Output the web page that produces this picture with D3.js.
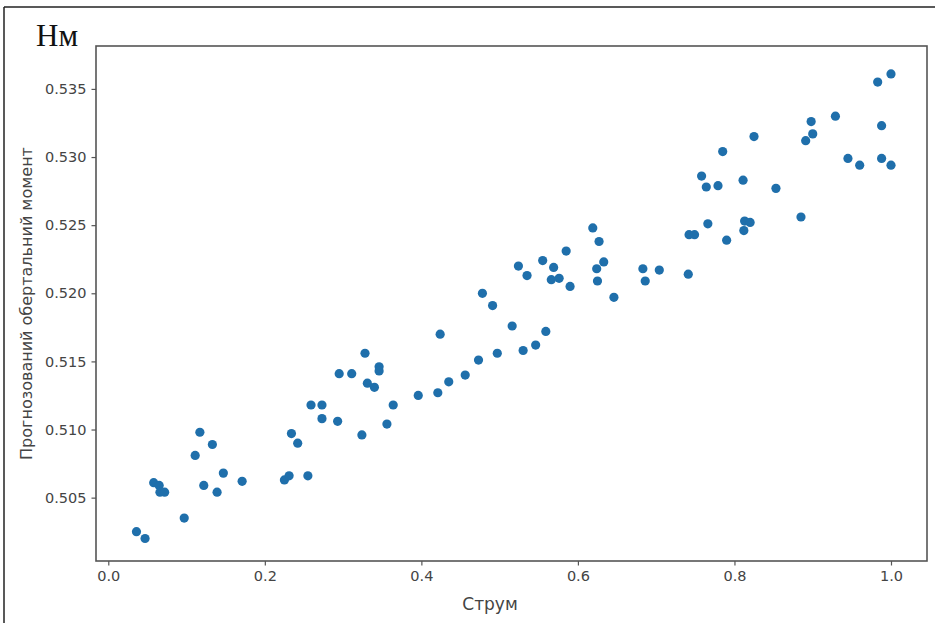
<!DOCTYPE html>
<html>
<head>
<meta charset="utf-8">
<script src="https://cdn.jsdelivr.net/npm/d3@7"></script>
<style>
    body { margin:0; background:#fff; }
    text { font-family: "DejaVu Sans", sans-serif; }
</style>
</head>
<body>
<div id="chart-area"></div>
<script>
// Струм vs прогнозований обертальний момент
var current = [0.036, 0.047, 0.058, 0.065, 0.066, 0.072, 0.097, 0.111, 0.117, 0.133,
    0.122, 0.139, 0.147, 0.171, 0.225, 0.231, 0.255, 0.234, 0.242, 0.259,
    0.273, 0.273, 0.293, 0.295, 0.311, 0.328, 0.331, 0.340, 0.346, 0.346,
    0.324, 0.356, 0.364, 0.396, 0.421, 0.424, 0.435, 0.456, 0.473, 0.478,
    0.491, 0.497, 0.516, 0.530, 0.546, 0.559, 0.524, 0.535, 0.555, 0.569,
    0.566, 0.576, 0.585, 0.590, 0.619, 0.627, 0.633, 0.624, 0.625, 0.646,
    0.683, 0.686, 0.704, 0.741, 0.742, 0.749, 0.758, 0.764, 0.779, 0.766,
    0.790, 0.811, 0.813, 0.820, 0.812, 0.825, 0.785, 0.853, 0.885, 0.891,
    0.900, 0.898, 0.929, 0.945, 0.960, 0.988, 0.988, 1.000, 0.983, 1.000];

var torque = [0.5025, 0.5020, 0.5061, 0.5059, 0.5054, 0.5054, 0.5035, 0.5081, 0.5098, 0.5089,
    0.5059, 0.5054, 0.5068, 0.5062, 0.5063, 0.5066, 0.5066, 0.5097, 0.5090, 0.5118,
    0.5118, 0.5108, 0.5106, 0.5141, 0.5141, 0.5156, 0.5134, 0.5131, 0.5146, 0.5143,
    0.5096, 0.5104, 0.5118, 0.5125, 0.5127, 0.5170, 0.5135, 0.5140, 0.5151, 0.5200,
    0.5191, 0.5156, 0.5176, 0.5158, 0.5162, 0.5172, 0.5220, 0.5213, 0.5224, 0.5219,
    0.5210, 0.5211, 0.5231, 0.5205, 0.5248, 0.5238, 0.5223, 0.5218, 0.5209, 0.5197,
    0.5218, 0.5209, 0.5217, 0.5214, 0.5243, 0.5243, 0.5286, 0.5278, 0.5279, 0.5251,
    0.5239, 0.5283, 0.5253, 0.5252, 0.5246, 0.5315, 0.5304, 0.5277, 0.5256, 0.5312,
    0.5317, 0.5326, 0.5330, 0.5299, 0.5294, 0.5323, 0.5299, 0.5294, 0.5355, 0.5361];

var xTicks = [0.0, 0.2, 0.4, 0.6, 0.8, 1.0];
var yTicks = [0.505, 0.510, 0.515, 0.520, 0.525, 0.530, 0.535];

// axis limits as seen in the picture
var xDomain = [-0.0157, 1.046];
var yDomain = [0.50035, 0.53815];

var data = current.map(function(c, i){ return { x: c, y: torque[i] }; });

var margin = { left:96, right:8, top:46, bottom:62 };
var width = 935 - margin.left - margin.right;
var height = 623 - margin.top - margin.bottom;

var svg = d3.select("#chart-area")
    .append("svg")
        .attr("width", 935)
        .attr("height", 623);

// frame lines of the scanned page
svg.append("line").attr("x1",4).attr("x2",4).attr("y1",7).attr("y2",623)
    .attr("stroke","#222").attr("stroke-width",1.5);
svg.append("line").attr("x1",4).attr("x2",935).attr("y1",7).attr("y2",7)
    .attr("stroke","#222").attr("stroke-width",1.5);

svg.append("text")
    .attr("x",36)
    .attr("y",46)
    .style("font-family","'Liberation Serif', serif")
    .attr("font-size","31px")
    .attr("fill","#111")
    .text("Нм");

var g = svg.append("g")
    .attr("transform", "translate(" + margin.left + ", " + margin.top + ")");

var xscale = d3.scaleLinear()
    .domain(xDomain)
    .range([0, width]);

var yscale = d3.scaleLinear()
    .domain(yDomain)
    .range([height, 0]);

var bottomAxisCall = d3.axisBottom(xscale)
    .tickValues(xTicks)
    .tickFormat(d3.format(".1f"))
    .tickSize(4.5)
    .tickPadding(5);

var leftAxisCall = d3.axisLeft(yscale)
    .tickValues(yTicks)
    .tickFormat(d3.format(".3f"))
    .tickSize(4.5)
    .tickPadding(5);

var xAxis = g.append("g")
    .attr("class","bottom-Axis")
    .attr("transform","translate(0," + height + ")")
    .call(bottomAxisCall);

var yAxis = g.append("g")
    .attr("class","left-Axis")
    .call(leftAxisCall);

[xAxis, yAxis].forEach(function(a){
    a.select(".domain").remove();
    a.selectAll("line").attr("stroke","#555").attr("stroke-width",1.2);
    a.selectAll("text")
        .attr("fill","#444")
        .style("font-family","'DejaVu Sans', sans-serif")
        .attr("font-size","14.5px");
});

// plot frame
g.append("rect")
    .attr("x",0)
    .attr("y",0)
    .attr("width",width)
    .attr("height",height)
    .attr("fill","none")
    .attr("stroke","#555")
    .attr("stroke-width",1.6);

g.selectAll("circle")
    .data(data)
    .enter()
    .append("circle")
        .attr("cx",function(d){ return xscale(d.x); })
        .attr("cy",function(d){ return yscale(d.y); })
        .attr("r",4.6)
        .attr("fill","#1f6fab");

g.append("text")
    .attr("class","X-Axis-lable")
    .attr("x",394)
    .attr("y",height+49)
    .attr("text-anchor","middle")
    .attr("fill","#444")
    .attr("font-size","17px")
    .text("Струм");

g.append("text")
    .attr("class","Y-Axis-lable")
    .attr("x",-(height/2))
    .attr("y",-64)
    .attr("transform","rotate(-90)")
    .attr("text-anchor","middle")
    .attr("fill","#444")
    .attr("font-size","16px")
    .text("Прогнозований обертальний момент");
</script>
</body>
</html>
